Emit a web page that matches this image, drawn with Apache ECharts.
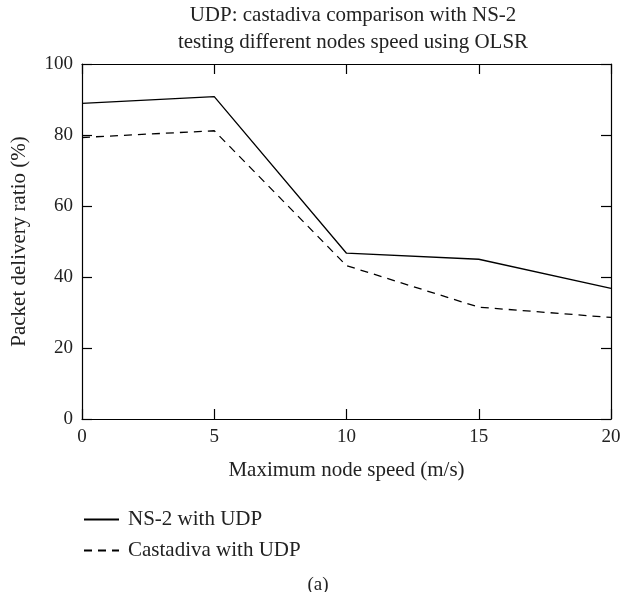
<!DOCTYPE html>
<html><head><meta charset="utf-8">
<script src="https://cdn.jsdelivr.net/npm/echarts@6/dist/echarts.min.js"></script>
<style>html,body{margin:0;padding:0;background:#fff}#c{width:621px;height:592px}</style>
</head><body><div id="c"></div>
<script>
const speeds = [0, 5, 10, 15, 20];
const ns2Udp = [88.9, 90.8, 46.7, 45.0, 36.8];
const castadivaUdp = [79.3, 81.2, 43.2, 31.5, 28.6];
const seriesNames = ['NS-2 with UDP', 'Castadiva with UDP'];
const titleLines = ['UDP: castadiva comparison with NS-2', 'testing different nodes speed using OLSR'];

const FONT = 'Liberation Serif';
const TXT = '#222';
const chart = echarts.init(document.getElementById('c'));
const axisCommon = {
  type: 'value',
  axisLine: {show: true, onZero: false, lineStyle: {color: '#000', width: 1.2}},
  axisTick: {show: true, inside: true, length: 10, lineStyle: {color: '#000', width: 1.2}},
  splitLine: {show: false}
};
chart.setOption({
  animation: false,
  textStyle: {fontFamily: FONT},
  title: [
    {text: titleLines.join('\n'), left: 348, top: -3, textAlign: 'center',
     textStyle: {fontFamily: FONT, fontSize: 21, fontWeight: 'normal', color: TXT, lineHeight: 27}},
    {text: '(a)', left: 313, top: 571, textAlign: 'center',
     textStyle: {fontFamily: FONT, fontSize: 19, fontWeight: 'normal', color: TXT}}
  ],
  legend: {
    orient: 'vertical', left: 78, top: 504, itemWidth: 35, itemHeight: 14, itemGap: 10,
    itemStyle: {opacity: 0},
    textStyle: {fontFamily: FONT, fontSize: 21, color: TXT, padding: [0, 0, 0, 4]},
    data: seriesNames
  },
  grid: {left: 82, right: 10, top: 64, bottom: 173, outerBoundsMode: 'none', containLabel: false},
  xAxis: [
    Object.assign({}, axisCommon, {min: 0, max: 20, interval: 5, position: 'bottom',
      name: 'Maximum node speed (m/s)', nameLocation: 'middle', nameGap: 41,
      nameTextStyle: {fontFamily: FONT, fontSize: 21, color: TXT},
      axisLabel: {fontFamily: FONT, fontSize: 19, color: TXT, margin: 9}}),
    Object.assign({}, axisCommon, {min: 0, max: 20, interval: 5, position: 'top', axisLabel: {show: false}})
  ],
  yAxis: [
    Object.assign({}, axisCommon, {min: 0, max: 100, interval: 20, position: 'left',
      name: 'Packet delivery ratio (%)', nameLocation: 'middle', nameGap: 52,
      nameTextStyle: {fontFamily: FONT, fontSize: 21, color: TXT},
      axisLabel: {fontFamily: FONT, fontSize: 19, color: TXT, margin: 9}}),
    Object.assign({}, axisCommon, {min: 0, max: 100, interval: 20, position: 'right', axisLabel: {show: false}})
  ],
  series: [
    {name: seriesNames[0], type: 'line', symbol: 'none', data: speeds.map((s, i) => [s, ns2Udp[i]]),
     lineStyle: {color: '#000', width: 1.3, type: 'solid'}, itemStyle: {color: '#000'}},
    {name: seriesNames[1], type: 'line', symbol: 'none', data: speeds.map((s, i) => [s, castadivaUdp[i]]),
     lineStyle: {color: '#000', width: 1.3, type: [8, 6]}, itemStyle: {color: '#000'}}
  ]
});
</script></body></html>
